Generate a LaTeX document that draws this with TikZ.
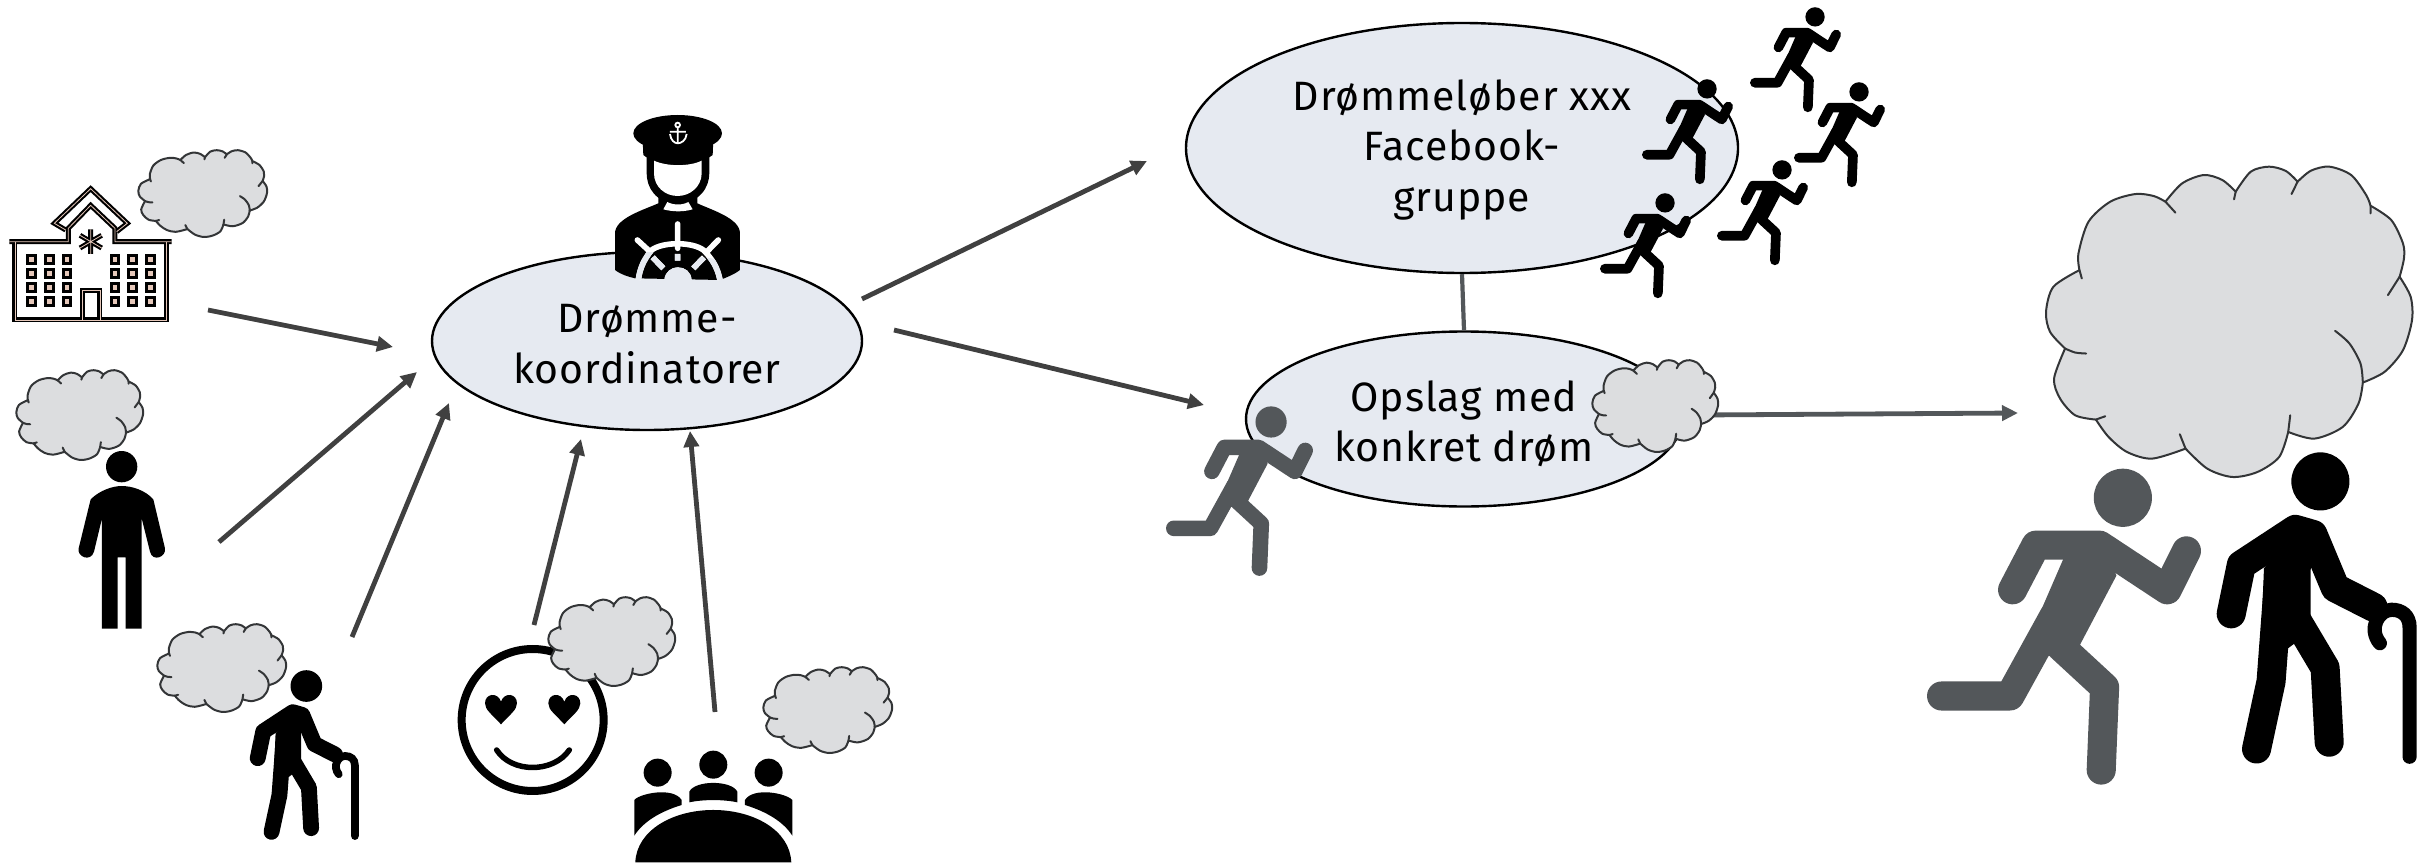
\documentclass[tikz,border=0pt]{standalone}
\usepackage{fontspec}
\setmainfont[LetterSpace=2.2]{Fira Sans}
\usetikzlibrary{arrows.meta,shapes.geometric}
\definecolor{ellfill}{HTML}{E6EAF1}
\definecolor{cloudfill}{HTML}{DCDDDF}
\definecolor{cloudline}{HTML}{333537}
\definecolor{arrowgrey}{HTML}{404040}
\definecolor{slate}{HTML}{53575A}
\definecolor{pinkcore}{HTML}{E6C8BA}
\tikzset{
 bubble/.style={ellipse,draw=black,fill=ellfill,line width=2.4pt,inner sep=0pt,align=center,
   font=\fontsize{41}{50.5}\selectfont},
 flow/.style={draw=arrowgrey,line width=4.8pt,-{Triangle[length=16pt,width=15pt]}},
 flowslate/.style={draw=slate,line width=4.8pt,-{Triangle[length=16pt,width=15pt]}},
 link/.style={draw=slate,line width=4.2pt},
 cloudshape/.style={fill=cloudfill,draw=cloudline,line width=2pt,line join=round},
 cloudtail/.style={draw=cloudline,line width=2pt,line cap=round},
}
\newcommand\cloudat[4]{%
 \pgfmathsetmacro\cldx{#3/1097}\pgfmathsetmacro\cldy{#4/932}%
 \begin{scope}[shift={({#1-285*\cldx},{#2-78*\cldy})},x=\cldx pt,y=-\cldy pt]
 \path[cloudshape] plot[smooth] coordinates {(388,390)(385,340)(415,245)(480,185)(555,162)(610,168)(645,185)}
  -- plot[smooth] coordinates {(645,185)(695,130)(760,105)(815,120)(855,155)}
  -- plot[smooth] coordinates {(855,155)(900,95)(955,80)(1005,93)(1040,125)}
  -- plot[smooth] coordinates {(1040,125)(1080,92)(1135,80)(1200,105)(1245,165)(1258,197)}
  -- plot[smooth] coordinates {(1258,197)(1320,240)(1355,310)(1358,355)(1345,410)}
  -- plot[smooth] coordinates {(1345,410)(1378,470)(1382,540)(1355,630)(1300,695)(1235,727)}
  -- plot[smooth] coordinates {(1235,727)(1222,790)(1175,860)(1090,895)(1012,875)}
  -- plot[smooth] coordinates {(1012,875)(985,950)(920,995)(845,1010)(770,985)(705,925)}
  -- plot[smooth] coordinates {(705,925)(605,955)(530,935)(475,890)(437,838)}
  -- plot[smooth] coordinates {(437,838)(375,825)(330,775)(312,715)(345,625)}
  -- plot[smooth] coordinates {(345,625)(300,575)(288,515)(310,440)(388,390)} -- cycle;
 \draw[cloudtail] (388,390)--(395,415) (645,185)--(675,218) (855,155)--(850,178)
   (1040,125)--(1022,162) (1258,197)--(1258,220) (1345,410)--(1310,465)
   (1012,875)--(1018,825) (705,925)--(688,882) (437,838)--(465,828);
 \draw[cloudtail] plot[smooth] coordinates {(1235,727)(1228,670)(1195,610)(1152,572)};
 \draw[cloudtail] plot[smooth] coordinates {(345,625)(375,637)(408,640)};
 \end{scope}}
\newcommand\runnerat[4]{%
 \pgfmathsetmacro\rns{#3/810}\pgfmathsetmacro\rnw{86*\rns}%
 \begin{scope}[shift={({#1-75*\rns},{#2-112*\rns})},x=\rns pt,y=-\rns pt]
 \fill[#4] (654,200) circle[radius=86];
 \fill[#4] (500,330)--(590,320)--(635,430)--(527,635)--(435,668)--(370,630)--cycle;
 \draw[#4,line width=\rnw pt,line cap=round,line join=round]
   (328,472)--(397,340)--(585,340)--(785,472)--(842,357);
 \draw[#4,line width=\rnw pt,line cap=round,line join=round]
   (450,550)--(320,786)--(118,786);
 \draw[#4,line width=\rnw pt,line cap=round,line join=round]
   (470,640)--(600,760)--(590,1005);
 \end{scope}}
\newcommand\oldat[3]{%
 \pgfmathsetmacro\ols{#3/592}\pgfmathsetmacro\olw{86*\ols}\pgfmathsetmacro\olc{42*\ols}%
 \begin{scope}[shift={({#1-938*\ols},{#2-66*\ols})},x=\ols pt,y=-\ols pt]
 \fill[black] (1244,153) circle[radius=86];
 \fill[black] (1077,410)--(1170,295)--(1222,310)--(1215,420)--(1215,597)--(1147,648)--(1065,700)--cycle;
 \draw[black,line width=\olw pt,line cap=round,line join=round]
   (980,545)--(1010,400)--(1170,295)--(1222,310)--(1288,468)--(1400,525);
 \draw[black,line width=\olw pt,line cap=round,line join=round]
   (1120,450)--(1098,745)--(1055,945);
 \draw[black,line width=\olw pt,line cap=round,line join=round]
   (1172,560)--(1258,705)--(1270,925);
 \draw[black,line width=\olc pt,line cap=round]
   (1508,968)--(1508,585) .. controls (1508,550) and (1485,533) .. (1455,533)
   .. controls (1415,533) and (1385,590) .. (1420,632);
 \end{scope}}
\newcommand\wheelcut[1]{%
 \draw[#1,line width=5.6pt,line cap=butt] (175,540) .. controls (180,500) and (195,475) .. (215,450)
    .. controls (250,425) and (335,425) .. (370,450) .. controls (395,475) and (412,500) .. (420,540);
 \draw[#1,line width=5.6pt,line cap=round] (293,372)--(293,445) (172,420)--(210,455) (415,420)--(378,458);
 \draw[#1,line width=5.6pt] (293,462)--(293,482) (218,472)--(250,505) (372,472)--(340,505);
 \fill[#1] (253,540) .. controls (255,515) and (275,502) .. (293,502) .. controls (315,502) and (333,515) .. (335,540) --cycle;
}
\begin{document}
\begin{tikzpicture}[x=1pt,y=-1pt]
\useasboundingbox (0,0) rectangle (2430,864);
\fill[white] (0,0) rectangle (2430,864);

% arrow end points
\coordinate (a1s) at (208,310); \coordinate (a1e) at (393,347);
\coordinate (a2s) at (219,542); \coordinate (a2e) at (417,372);
\coordinate (a3s) at (352,637); \coordinate (a3e) at (449,403);
\coordinate (a4s) at (534,625); \coordinate (a4e) at (581,439);
\coordinate (a5s) at (715,712); \coordinate (a5e) at (690,431);
\coordinate (a6s) at (862,299); \coordinate (a6e) at (1147,161);
\coordinate (a7s) at (894,330); \coordinate (a7e) at (1204,405);
\coordinate (a8s) at (1700,415); \coordinate (a8e) at (2018,413);

\node[bubble,minimum width=430pt,minimum height=178pt] (koord) at (647,341) {\rule{0pt}{34pt}Drømme-\\koordinatorer};
\node[bubble,minimum width=552pt,minimum height=250pt] (fb) at (1462,148) {\rule{0pt}{34pt}Drømmeløber xxx\\Facebook-\\gruppe};
\node[bubble,minimum width=436pt,minimum height=175pt] (opslag) at (1464,419) {\rule{0pt}{40pt}Opslag med\\konkret drøm};
\draw[link] (fb.south) -- (opslag.north);

\draw[flow] (a1s) -- (a1e);
\draw[flow] (a2s) -- (a2e);
\draw[flow] (a3s) -- (a3e);
\draw[flow] (a4s) -- (a4e);
\draw[flow] (a5s) -- (a5e);
\draw[flow] (a6s) -- (a6e);
\draw[flow] (a7s) -- (a7e);
\draw[flowslate] (a8s) -- (a8e);

% hospital
\begin{scope}[shift={(0,130)},x=0.3333pt,y=-0.3333pt]
 \begin{scope}[line join=miter]
 \foreach \wc/\cw in {black/5,pinkcore/0.8}{
  \draw[\wc,line width=\cw pt] (28,335)--(205,335)--(205,295)--(272,226)--(345,295)--(345,335)--(515,335);
  \draw[\wc,line width=\cw pt] (45,335)--(45,570)--(500,570)--(500,335);
  \draw[\wc,line width=\cw pt] (197,300)--(163,280)--(272,176)--(382,280)--(350,305);
  \draw[\wc,line width=\cw pt] (248,570)--(248,482)--(300,482)--(300,570);
  \draw[\wc,line width=\cw pt] (272,298)--(272,372) (240,316)--(305,354) (240,354)--(305,316);
 }
 \end{scope}
 \foreach \wx in {95,148,201,345,398,451}{\foreach \wy in {389,430,472,514}{
   \fill[black] (\wx-16,\wy-16) rectangle (\wx+16,\wy+16);
   \fill[pinkcore] (\wx-7,\wy-7) rectangle (\wx+7,\wy+7);}}
\end{scope}

% captain
\begin{scope}[shift={(580,100)},x=0.3333pt,y=-0.3333pt]
 \fill[black] (235,290)--(235,310) .. controls (190,330) and (105,355) .. (105,400) -- (105,510)
   .. controls (125,525) and (145,530) .. (165,535) -- (420,540) .. controls (445,530) and (465,522) .. (480,510)
   -- (480,400) .. controls (480,355) and (395,330) .. (352,310) -- (352,290) -- cycle;
 \fill[black] (200,150)--(200,220) .. controls (200,260) and (225,310) .. (293,310)
   .. controls (360,310) and (388,260) .. (388,220) -- (388,150) -- cycle;
 \fill[black] (293,100) ellipse[x radius=133,y radius=55];
 \fill[black] (188,120)--(190,165) .. controls (230,200) and (355,200) .. (398,165)--(400,120)--cycle;
 \fill[white] (222,182) .. controls (260,200) and (330,200) .. (365,182) -- (365,220)
   .. controls (365,260) and (330,288) .. (293,288) .. controls (255,288) and (222,260) .. (222,220) -- cycle;
 \fill[white] (262,306) .. controls (280,316) and (308,316) .. (325,306) -- (338,328)
   .. controls (310,336) and (280,336) .. (250,328) -- cycle;
 \begin{scope}
   \wheelcut{white}
 \end{scope}
 \begin{scope}
   \clip (0,465) .. controls (120,445) and (400,450) .. (660,540) -- (660,600) -- (0,600) -- cycle;
   \wheelcut{ellfill}
 \end{scope}
 \draw[white,line width=1.8pt] (293,75) circle[radius=7] (293,83)--(293,130) (270,95)--(318,95);
 \draw[white,line width=1.8pt] (270,102) .. controls (272,122) and (285,130) .. (293,130) .. controls (303,130) and (318,122) .. (320,102);
\end{scope}

% runners and old people
\runnerat{1750}{7}{91}{black}
\runnerat{1794}{82}{91}{black}
\runnerat{1642}{79}{91}{black}
\runnerat{1717}{160}{91}{black}
\runnerat{1600}{193}{91}{black}
\runnerat{1166}{406}{147}{slate}
\runnerat{1927}{468}{274}{slate}
\oldat{2217}{452}{200}
\oldat{250}{670}{109}

% standing man
\begin{scope}[shift={(60,440)},x=0.3333pt,y=-0.3333pt]
 \fill[black] (185,80) circle[radius=47];
 \fill[black] (92,178) .. controls (120,150) and (160,138) .. (185,138) .. controls (215,138) and (255,150) .. (280,178)
   -- (315,325) .. controls (320,350) and (278,368) .. (270,335) -- (245,235) -- (245,566) -- (197,566) -- (197,352)
   -- (173,352) -- (173,566) -- (126,566) -- (126,235) -- (102,335) .. controls (92,368) and (50,350) .. (56,325) -- cycle;
\end{scope}

% smiley
\begin{scope}[shift={(440,590)},x=0.3333pt,y=-0.3333pt]
 \draw[black,line width=8pt] (278,390) circle[radius=213];
 \draw[black,line width=5.5pt,line cap=round] (170,480) .. controls (215,550) and (340,550) .. (388,480);
 \foreach \hx in {183,373}{
  \fill[black] (\hx,403) .. controls (\hx-25,375) and (\hx-48,360) .. (\hx-48,340)
     .. controls (\hx-48,310) and (\hx-10,305) .. (\hx,335)
     .. controls (\hx+10,305) and (\hx+48,310) .. (\hx+48,340)
     .. controls (\hx+48,360) and (\hx+25,375) .. (\hx,403) -- cycle;}
\end{scope}

% meeting
\begin{scope}[shift={(440,590)},x=0.3333pt,y=-0.3333pt]
 \fill[black] (653,548) circle[radius=42] (820,524) circle[radius=42] (986,548) circle[radius=42];
 \fill[black] (583,737) -- (583,630) .. controls (600,610) and (700,590) .. (725,630) -- (725,645)
    .. controls (660,665) and (610,695) .. (583,737) -- cycle;
 \fill[black] (1057,737) -- (1057,630) .. controls (1040,610) and (940,590) .. (915,630) -- (915,645)
    .. controls (980,665) and (1030,695) .. (1057,737) -- cycle;
 \fill[black] (748,637) -- (748,605) .. controls (765,570) and (875,570) .. (892,605) -- (892,637)
    .. controls (850,628) and (790,628) .. (748,637) -- cycle;
 \fill[black] (586,817) .. controls (590,720) and (700,660) .. (820,660)
    .. controls (940,660) and (1050,720) .. (1054,817) -- cycle;
\end{scope}

% clouds
\cloudat{138}{150}{129}{87}
\cloudat{16}{370}{127}{90}
\cloudat{157}{624}{129}{88}
\cloudat{548}{597}{127}{89}
\cloudat{763}{667}{129}{86}
\cloudat{1592}{360}{126}{92}
\cloudat{2045}{166}{367}{311}
\end{tikzpicture}
\end{document}
